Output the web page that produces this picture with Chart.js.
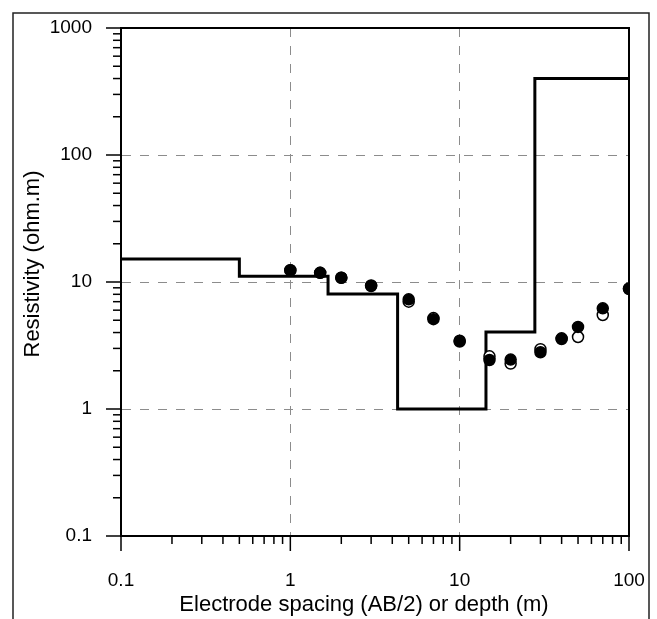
<!DOCTYPE html>
<html>
<head>
<meta charset="utf-8">
<script src="https://cdn.jsdelivr.net/npm/chart.js@4/dist/chart.umd.min.js"></script>
<style>
  html, body { margin: 0; padding: 0; background: #fff; }
  #wrap { width: 657px; height: 619px; position: relative; }
</style>
</head>
<body>
<div id="wrap"><canvas id="sondeoChart" width="657" height="619"></canvas></div>
<script>
// Datos del sondeo (AB/2 en m, resistividad en ohm.m)
const ab2 = [1, 1.5, 2, 3, 5, 7, 10, 15, 20, 30, 40, 50, 70, 100];
const observed = [12.4, 11.8, 10.8, 9.3, 7.3, 5.1, 3.4, 2.43, 2.45, 2.8, 3.56, 4.43, 6.2, 8.8];
const calculated = [12.4, 11.8, 10.8, 9.4, 7.0, 5.2, 3.45, 2.6, 2.28, 2.96, 3.6, 3.69, 5.5, 8.9];

// Modelo de capas: profundidades de los limites y resistividad de cada capa
const layerDepth = [0.1, 0.5, 1.67, 4.3, 14.3, 27.8, 100];
const layerRes = [15.2, 11.1, 8.05, 1.0, 4.04, 400];

// Etiquetas de los ejes
const xTickLabels = [0.1, 1, 10, 100];
const yTickLabels = [0.1, 1, 10, 100, 1000];

const FONT = '"Liberation Sans", Arial, sans-serif';

// escalones del modelo
const modelPoints = [];
layerRes.forEach((r, i) => {
  modelPoints.push({ x: layerDepth[i], y: r });
  modelPoints.push({ x: layerDepth[i + 1], y: r });
});

function logTicks(min, max) {
  const out = [];
  for (let d = Math.log10(min); d < Math.log10(max); d++) {
    for (let k = 1; k < 10; k++) out.push(+(k * Math.pow(10, d)).toPrecision(3));
  }
  out.push(max);
  return out;
}

function isMajor(v) {
  const l = Math.log10(v);
  return Math.abs(l - Math.round(l)) < 1e-6;
}

// marcas de los ejes, marco y titulos
const decorPlugin = {
  id: 'decor',
  beforeDraw(chart) {
    const ctx = chart.ctx;
    ctx.save();
    ctx.strokeStyle = '#222';
    ctx.lineWidth = 1.5;
    ctx.beginPath();
    ctx.moveTo(13, 640);
    ctx.lineTo(13, 13);
    ctx.lineTo(649, 13);
    ctx.lineTo(649, 640);
    ctx.stroke();
    ctx.restore();
  },
  afterDraw(chart) {
    const { ctx, chartArea } = chart;
    const xs = chart.scales.x;
    const ys = chart.scales.y;
    ctx.save();
    ctx.strokeStyle = '#000';
    ctx.lineWidth = 1.5;
    xs.ticks.forEach(t => {
      const px = xs.getPixelForValue(t.value);
      const len = isMajor(t.value) ? 15 : 8;
      ctx.beginPath();
      ctx.moveTo(px, chartArea.bottom);
      ctx.lineTo(px, chartArea.bottom + len);
      ctx.stroke();
    });
    ys.ticks.forEach(t => {
      const py = ys.getPixelForValue(t.value);
      const len = isMajor(t.value) ? 15 : 8;
      ctx.beginPath();
      ctx.moveTo(chartArea.left - len, py);
      ctx.lineTo(chartArea.left, py);
      ctx.stroke();
    });
    // borde superior y derecho del area
    ctx.lineWidth = 2;
    ctx.beginPath();
    ctx.moveTo(chartArea.left, chartArea.top);
    ctx.lineTo(chartArea.right, chartArea.top);
    ctx.lineTo(chartArea.right, chartArea.bottom);
    ctx.stroke();

    // titulos
    ctx.fillStyle = '#000';
    ctx.font = '22px ' + FONT;
    ctx.textAlign = 'center';
    ctx.textBaseline = 'middle';
    ctx.fillText('Electrode spacing (AB/2) or depth (m)', 364, 605);
    ctx.translate(33, 264);
    ctx.rotate(-Math.PI / 2);
    ctx.fillText('Resistivity (ohm.m)', 0, 0);
    ctx.restore();
  }
};

const canvasElement = document.getElementById('sondeoChart');

new Chart(canvasElement, {
  type: 'scatter',
  data: {
    datasets: [
      {
        label: 'Observed',
        data: ab2.map((x, i) => ({ x, y: observed[i] })),
        pointRadius: 5.5,
        pointBackgroundColor: '#000',
        pointBorderColor: '#000',
        pointBorderWidth: 1.5,
        order: 1,
      },
      {
        label: 'Calculated',
        data: ab2.map((x, i) => ({ x, y: calculated[i] })),
        pointRadius: 5.5,
        pointBackgroundColor: '#fff',
        pointBorderColor: '#000',
        pointBorderWidth: 1.5,
        order: 2,
      },
      {
        label: 'Model',
        data: modelPoints,
        showLine: true,
        pointRadius: 0,
        borderColor: '#000',
        borderWidth: 3,
        order: 3,
      },
    ],
  },
  options: {
    responsive: false,
    animation: false,
    layout: { padding: { left: 0, top: 28, right: 28, bottom: 0 } },
    plugins: {
      legend: { display: false },
      tooltip: { enabled: false },
    },
    scales: {
      x: {
        type: 'logarithmic',
        position: 'bottom',
        min: 0.1,
        max: 100,
        afterBuildTicks: s => { s.ticks = logTicks(0.1, 100).map(v => ({ value: v })); },
        afterFit: s => {
          s.height = 619 - 536;
          s.paddingLeft = 0;
          s.paddingRight = 0;
        },
        ticks: {
          autoSkip: false,
          maxRotation: 0,
          padding: 33,
          color: '#000',
          font: { family: FONT, size: 19 },
          callback: v => (xTickLabels.includes(v) ? String(v) : ''),
        },
        grid: {
          drawTicks: false,
          lineWidth: 1,
          color: c => (c.tick && isMajor(c.tick.value) ? '#8c8c8c' : 'rgba(0,0,0,0)'),
        },
        border: { display: true, color: '#000', width: 2, dash: [9, 9] },
      },
      y: {
        type: 'logarithmic',
        position: 'left',
        min: 0.1,
        max: 1000,
        afterBuildTicks: s => { s.ticks = logTicks(0.1, 1000).map(v => ({ value: v })); },
        afterFit: s => {
          s.width = 121;
          s.paddingTop = 0;
          s.paddingBottom = 0;
        },
        ticks: {
          autoSkip: false,
          padding: 29,
          color: '#000',
          font: { family: FONT, size: 19 },
          callback: v => (yTickLabels.includes(v) ? String(v) : ''),
        },
        grid: {
          drawTicks: false,
          lineWidth: 1,
          color: c => (c.tick && isMajor(c.tick.value) ? '#8c8c8c' : 'rgba(0,0,0,0)'),
        },
        border: { display: true, color: '#000', width: 2, dash: [9, 9] },
      },
    },
  },
  plugins: [decorPlugin],
});
</script>
</body>
</html>
